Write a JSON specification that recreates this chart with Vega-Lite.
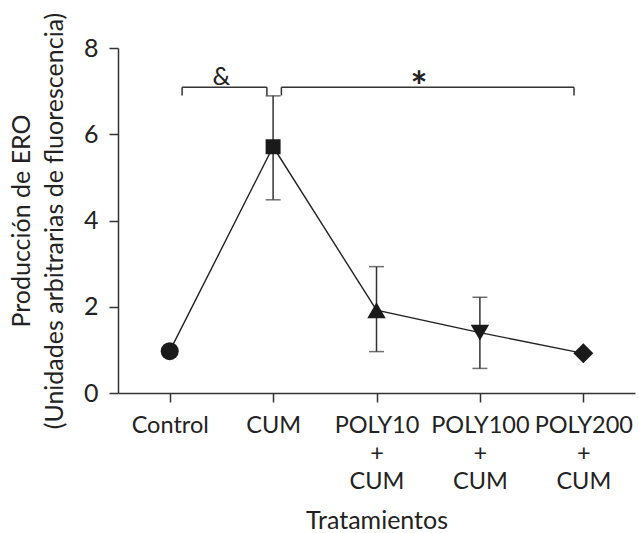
{
  "$schema": "https://vega.github.io/schema/vega-lite/v6.json",
  "width": 517,
  "height": 345,
  "autosize": {"type": "none"},
  "padding": {"left": 118, "top": 48, "right": 4, "bottom": 140},
  "background": "white",
  "config": {
    "view": {"stroke": null},
    "font": "Lato",
    "axis": {
      "domainColor": "#333",
      "tickColor": "#333",
      "labelColor": "#222",
      "titleColor": "#222",
      "labelFont": "Lato",
      "titleFont": "Lato",
      "labelFontSize": 25,
      "titleFontSize": 25,
      "titleFontWeight": "normal",
      "domainWidth": 1.5,
      "tickWidth": 1.5,
      "tickSize": 9,
      "grid": false
    }
  },
  "datasets": {
    "main": [
      {"t": "Control", "mean": 0.97},
      {"t": "CUM", "mean": 5.71, "lo": 4.48, "hi": 6.89},
      {"t": "POLY10 + CUM", "mean": 1.92, "lo": 0.96, "hi": 2.93},
      {"t": "POLY100 + CUM", "mean": 1.40, "lo": 0.57, "hi": 2.22},
      {"t": "POLY200 + CUM", "mean": 0.92}
    ],
    "brackets": [
      {"x": 0.12, "x2": 0.12, "y": 6.9, "y2": 7.09},
      {"x": 0.12, "x2": 0.94, "y": 7.09, "y2": 7.09},
      {"x": 0.94, "x2": 0.94, "y": 7.09, "y2": 6.9},
      {"x": 1.08, "x2": 1.08, "y": 6.9, "y2": 7.09},
      {"x": 1.08, "x2": 3.91, "y": 7.09, "y2": 7.09},
      {"x": 3.91, "x2": 3.91, "y": 7.09, "y2": 6.9}
    ],
    "signs": [
      {"x": 0.5, "y": 7.09, "s": "&"},
      {"x": 2.41, "y": 7.09, "s": "*"}
    ]
  },
  "layer": [
    {
      "data": {"name": "main"},
      "layer": [
        {
          "mark": {"type": "line", "color": "#222", "strokeWidth": 1.4},
          "encoding": {
            "x": {"field": "t", "type": "nominal", "sort": null}
          }
        },
        {
          "transform": [{"filter": "isValid(datum.lo)"}],
          "mark": {"type": "rule", "color": "#333", "strokeWidth": 1.5},
          "encoding": {
            "y": {"field": "lo", "type": "quantitative"},
            "y2": {"field": "hi"}
          }
        },
        {
          "transform": [{"filter": "isValid(datum.lo)"}],
          "mark": {"type": "tick", "orient": "horizontal", "color": "#333", "size": 15, "thickness": 1.5},
          "encoding": {
            "y": {"field": "lo", "type": "quantitative"}
          }
        },
        {
          "transform": [{"filter": "isValid(datum.hi)"}],
          "mark": {"type": "tick", "orient": "horizontal", "color": "#333", "size": 15, "thickness": 1.5},
          "encoding": {
            "y": {"field": "hi", "type": "quantitative"}
          }
        },
        {
          "mark": {"type": "point", "filled": true, "color": "#1a1a1a", "opacity": 1},
          "encoding": {
            "shape": {
              "field": "t", "type": "nominal", "sort": null, "legend": null,
              "scale": {"range": ["circle", "square", "triangle-up", "triangle-down", "diamond"]}
            },
            "size": {
              "field": "t", "type": "nominal", "sort": null, "legend": null,
              "scale": {"type": "ordinal", "range": [324, 225, 340, 340, 400]}
            }
          }
        }
      ],
      "encoding": {
        "x": {
          "field": "t", "type": "nominal", "sort": null,
          "scale": {"type": "point", "padding": 0.5},
          "axis": {
            "title": "Tratamientos",
            "labelAngle": 0,
            "labelFontSize": 23.5,
            "labelExpr": "split(datum.value, ' ')",
            "labelLineHeight": 28,
            "labelPadding": 11,
            "titlePadding": 16
          }
        },
        "y": {
          "field": "mean", "type": "quantitative",
          "scale": {"domain": [0, 8], "nice": false},
          "axis": {
            "title": ["Producción de ERO", "(Unidades arbitrarias de fluorescencia)"],
            "titleLineHeight": 33,
            "values": [0, 2, 4, 6, 8],
            "labelPadding": 11,
            "titlePadding": 16
          }
        }
      }
    },
    {
      "data": {"name": "brackets"},
      "mark": {"type": "rule", "color": "#333", "strokeWidth": 1.5},
      "encoding": {
        "x": {"field": "x", "type": "quantitative", "scale": {"domain": [-0.5, 4.5], "nice": false, "zero": false}, "axis": null},
        "x2": {"field": "x2"},
        "y": {"field": "y", "type": "quantitative"},
        "y2": {"field": "y2"}
      }
    },
    {
      "data": {"name": "signs"},
      "transform": [{"filter": "datum.s == '&'"}],
      "mark": {"type": "text", "fontSize": 25, "color": "#222", "baseline": "alphabetic", "dy": -2},
      "encoding": {
        "x": {"field": "x", "type": "quantitative", "scale": {"domain": [-0.5, 4.5], "nice": false, "zero": false}, "axis": null},
        "y": {"field": "y", "type": "quantitative"},
        "text": {"field": "s"}
      }
    },
    {
      "data": {"name": "signs"},
      "transform": [{"filter": "datum.s == '*'"}],
      "mark": {"type": "text", "fontSize": 40, "fontWeight": "bold", "color": "#222", "baseline": "alphabetic", "dy": 14},
      "encoding": {
        "x": {"field": "x", "type": "quantitative", "scale": {"domain": [-0.5, 4.5], "nice": false, "zero": false}, "axis": null},
        "y": {"field": "y", "type": "quantitative"},
        "text": {"field": "s"}
      }
    }
  ],
  "resolve": {"scale": {"x": "independent"}}
}
